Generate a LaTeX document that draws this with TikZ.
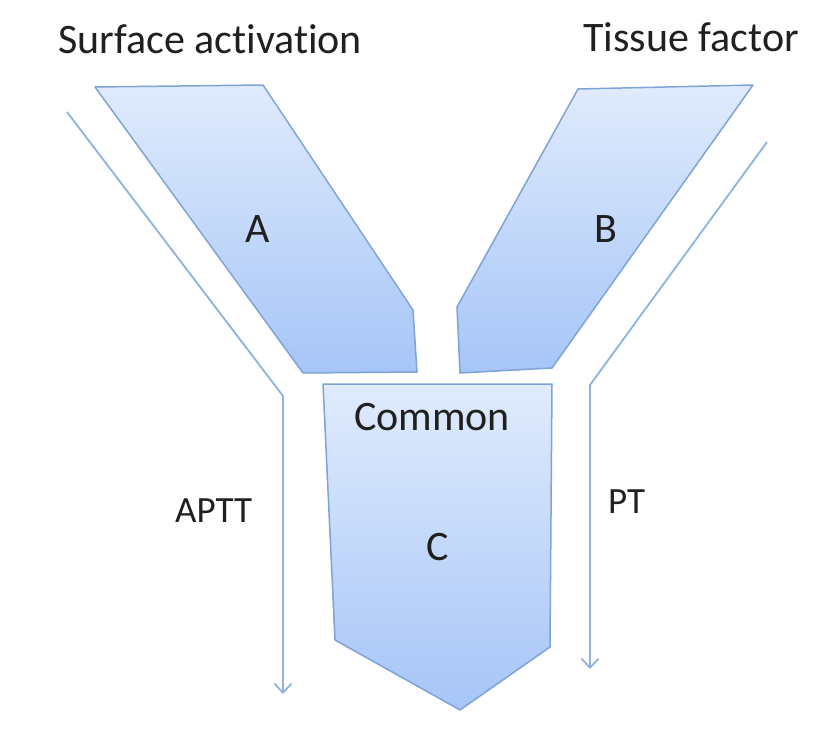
\documentclass[tikz,border=0pt]{standalone}
\usepackage{fontspec}
\setmainfont{Carlito}[Ligatures=NoCommon]
\usepackage{tikz}
\usetikzlibrary{arrows.meta}

\definecolor{paletop}{HTML}{E0EBFC}
\definecolor{palebot}{HTML}{A6C5F7}
\definecolor{edgeblue}{HTML}{7EA3D6}
\definecolor{lineblue}{HTML}{8FB2DC}
\definecolor{inkgray}{HTML}{202020}

\tikzset{
    limb/.style={draw=edgeblue, line width=1.5pt, line join=round, top color=paletop, bottom color=palebot},
    route/.style={draw=lineblue, line width=1.8pt, -{Straight Barb[length=9pt, width=17pt]}},
    bigtext/.style={font=\fontsize{42}{50}\selectfont, text=inkgray, inner sep=0pt},
    testtext/.style={font=\fontsize{37}{44}\selectfont, text=inkgray, inner sep=0pt}
}

\begin{document}
\begin{tikzpicture}[x=1pt, y=-1pt]
                \useasboundingbox (0,0) rectangle (819,752);
                % the three limbs of the Y
                \draw[limb] (95,87) -- (263,85) -- (413,310) -- (417,372) -- (303,373) -- cycle;
                \draw[limb] (578,89) -- (753,85) -- (552,368) -- (460,373) -- (457,307) -- cycle;
                \draw[limb] (323,384) -- (552,384) -- (550,647) -- (460,710) -- (335,640) -- cycle;
                % routes
                \coordinate (aptttop) at (67,112);
                \coordinate (apttbend) at (283,396);
                \coordinate (apttend) at (283,694);
                \coordinate (pttop) at (767,142);
                \coordinate (ptbend) at (590,385);
                \coordinate (ptend) at (590,669);
                \draw[route] (aptttop) -- (apttbend) -- (apttend);
                \draw[route] (pttop) -- (ptbend) -- (ptend);
                % labels
                \node[bigtext, anchor=base west] (surface) at (58,54) {Surface activation};
                \node[bigtext, anchor=base west] (tissue) at (583,52) {Tissue factor};
                \node[bigtext, anchor=base] (labA) at (258,242) {A};
                \node[bigtext, anchor=base] (labB) at (606,242) {B};
                \node[bigtext, anchor=base] (common) at (432,430) {Common};
                \node[bigtext, anchor=base] (labC) at (438,560) {C};
                \node[testtext, anchor=base west] (aptt) at (175,522) {APTT};
                \node[testtext, anchor=base west] (pt) at (608,513) {PT};
            \end{tikzpicture}
\end{document}
